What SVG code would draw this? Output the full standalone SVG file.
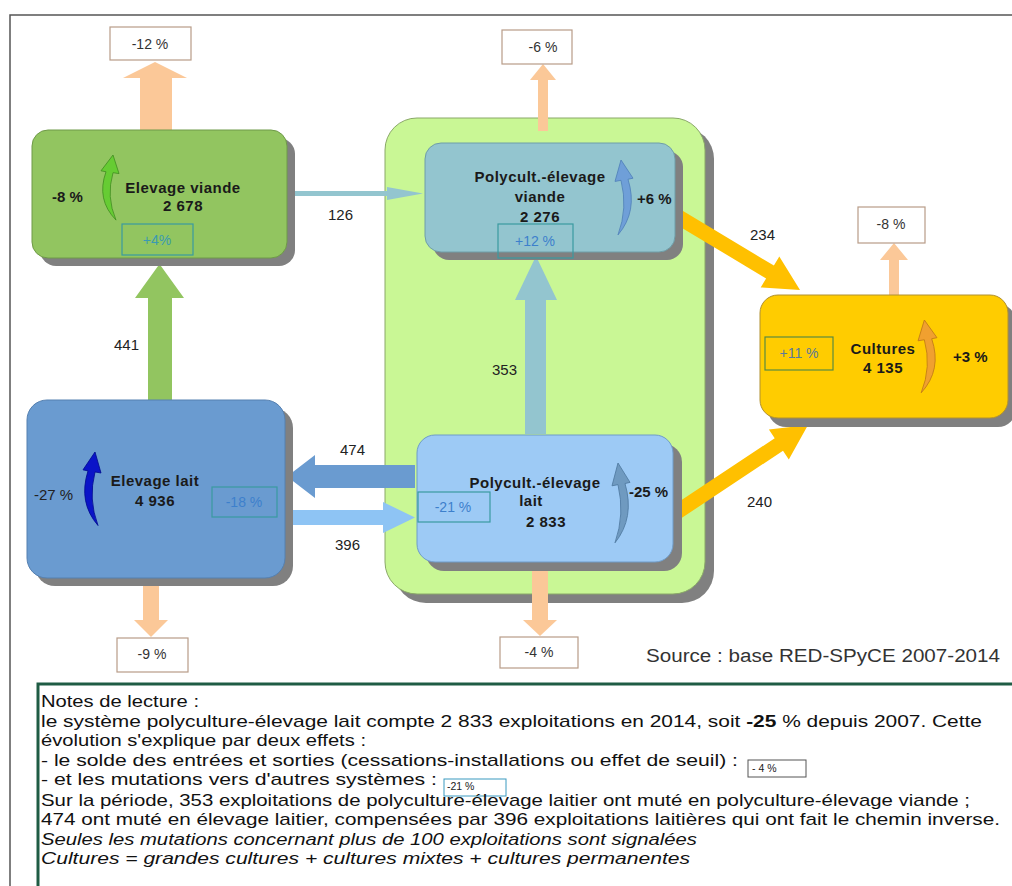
<svg xmlns="http://www.w3.org/2000/svg" width="1012" height="886" viewBox="0 0 1012 886">
<style>
  text{font-family:"Liberation Sans",Arial,sans-serif;fill:#1a1a1a}
  .ttl{font-size:15px;font-weight:bold;text-anchor:middle;letter-spacing:0.5px}
  .pct{font-size:15px;font-weight:bold}
  .num{font-size:15px;fill:#222}
  .ibox{fill:none;stroke:#3a9aa0;stroke-width:1.2}
  .itxt{font-size:14px;fill:#3d80cc;text-anchor:middle}
  .obox{fill:#fff;stroke:#b89c88;stroke-width:1.2}
  .otxt{font-size:14px;fill:#333;text-anchor:middle}
  .shadow{fill:#808080}
  .peach{fill:#fbc898}
  .note{font-size:17px;fill:#111}
  .it{font-style:italic}
</style>
<defs>
  <path id="crv" d="M16 70 Q-4 48 6 18 L1 17 L13 0 L19 20 L13 19 Q6 45 16 70 Z"/>
</defs>
<rect width="1012" height="886" fill="#fff"/>
<!-- frame -->
<path d="M10 886 V15 H1012" fill="none" stroke="#555" stroke-width="1.5"/>

<!-- container -->
<g id="container">
  <rect x="394" y="127" width="320" height="476" rx="32" class="shadow"/>
  <rect x="385" y="118" width="320" height="476" rx="32" fill="#c9f795" stroke="#8aa868" stroke-width="1"/>
</g>

<g id="connectors">
  <!-- outflows (peach) -->
  <polygon class="peach" points="140,130 140,78 123,78 155,62 187,78 172,78 172,130"/>
  <polygon class="peach" points="538,131 538,80 530,80 543,64 556,80 548,80 548,131"/>
  <polygon class="peach" points="889,295 889,260 880,260 894,243 908,260 899,260 899,295"/>
  <polygon class="peach" points="143,578 143,620 134,620 151,637 168,620 159,620 159,578"/>
  <polygon class="peach" points="532,570 532,620 523,620 540,636 557,620 548,620 548,570"/>
  <!-- 441 -->
  <polygon fill="#92c560" points="148,402 148,298 135,298 159.5,264 184,298 172,298 172,402"/>
  <!-- 353 -->
  <polygon fill="#93c5cf" points="525,434 525,300 515,300 536,256 557,300 546,300 546,434"/>
  <!-- 474 -->
  <polygon fill="#6a9bd0" points="415,465 315,465 315,455 287,476.5 315,498 315,488 415,488"/>
  <!-- 396 -->
  <polygon fill="#8ec4f4" points="290,510 383,510 383,502 415,517.5 383,533 383,525 290,525"/>
  <!-- 126 -->
  <polygon fill="#93c5cf" points="287,191 387,191 387,187 423,193.5 387,200 387,196 287,196"/>
  <!-- 234 -->
  <polygon fill="#ffc000" points="678.9,208.6 773.9,265.6 779.3,256.6 800,290 760.7,287.4 766.1,278.4 671.1,221.4"/>
  <!-- 240 -->
  <polygon fill="#ffc000" points="672.9,505.8 774.7,438.2 768.9,429.4 808,425 788.8,459.4 783,450.7 681.2,518.3"/>
  <!-- labels -->
  <text class="num" x="328" y="220">126</text>
  <text class="num" x="114" y="350">441</text>
  <text class="num" x="492" y="375">353</text>
  <text class="num" x="340" y="455">474</text>
  <text class="num" x="335" y="550">396</text>
  <text class="num" x="750" y="240">234</text>
  <text class="num" x="747" y="507">240</text>
</g>

<!-- outflow boxes -->
<g id="out-ev">
  <rect class="obox" x="110" y="27" width="81" height="33"/>
  <text class="otxt" x="150" y="49">-12 %</text>
</g>
<g id="out-pv">
  <rect class="obox" x="502" y="30" width="70" height="34"/>
  <text class="otxt" x="543" y="52">-6 %</text>
</g>
<g id="out-cu">
  <rect class="obox" x="858" y="207" width="67" height="36"/>
  <text class="otxt" x="891" y="229">-8 %</text>
</g>
<g id="out-el">
  <rect class="obox" x="117" y="638" width="71" height="34"/>
  <text class="otxt" x="152" y="659">-9 %</text>
</g>
<g id="out-pl">
  <rect class="obox" x="500" y="637" width="78" height="31"/>
  <text class="otxt" x="539" y="657">-4 %</text>
</g>

<!-- Elevage viande -->
<g id="elevage-viande">
  <rect class="shadow" x="40" y="138" width="255" height="128" rx="16"/>
  <rect x="32" y="130" width="255" height="128" rx="16" fill="#92c560" stroke="#6f9a48" stroke-width="1"/>
  <use href="#crv" transform="translate(100,155) scale(1,0.93)" fill="#66cc33" stroke="#3d8a1e" stroke-width="0.8"/>
  <text class="ttl" x="183" y="193">Elevage viande</text>
  <text class="ttl" x="183" y="211">2 678</text>
  <text class="pct" x="52" y="202">-8 %</text>
  <rect class="ibox" x="122" y="224" width="71" height="31"/>
  <text class="itxt" x="157" y="245" style="fill:#3a9ab0">+4%</text>
</g>

<!-- Elevage lait -->
<g id="elevage-lait">
  <rect class="shadow" x="35" y="408" width="258" height="178" rx="20"/>
  <rect x="27" y="400" width="258" height="178" rx="20" fill="#6a9bd0" stroke="#5580b0" stroke-width="1"/>
  <use href="#crv" transform="translate(82,452) scale(1,1.05)" fill="#0a14c8" stroke="#000a90" stroke-width="0.8"/>
  <text class="ttl" x="155" y="486">Elevage lait</text>
  <text class="ttl" x="155" y="506">4 936</text>
  <text class="num" x="34" y="500">-27 %</text>
  <rect class="ibox" x="212" y="487" width="65" height="30"/>
  <text class="itxt" x="244" y="507">-18 %</text>
</g>

<!-- Polycult.-élevage viande -->
<g id="polycult-viande">
  <rect class="shadow" x="433" y="151" width="250" height="109" rx="16"/>
  <rect x="425" y="143" width="250" height="109" rx="16" fill="#93c5cf" stroke="#6f9ea8" stroke-width="1"/>
  <use href="#crv" transform="translate(634,160) scale(-1,1.07)" fill="#6f9fd8" stroke="#4f7fb8" stroke-width="0.8"/>
  <text class="ttl" x="540" y="182">Polycult.-élevage</text>
  <text class="ttl" x="540" y="202">viande</text>
  <text class="ttl" x="540" y="222">2 276</text>
  <text class="pct" x="637" y="204">+6 %</text>
  <rect class="ibox" x="498" y="224" width="75" height="34"/>
  <text class="itxt" x="535" y="246">+12 %</text>
</g>

<!-- Polycult.-élevage lait -->
<g id="polycult-lait">
  <rect class="shadow" x="426" y="444" width="256" height="127" rx="18"/>
  <rect x="417" y="435" width="256" height="127" rx="18" fill="#9dcaf5" stroke="#6f9cc8" stroke-width="1"/>
  <use href="#crv" transform="translate(631,463) scale(-1,1.14)" fill="#6f9ac0" stroke="#507aa0" stroke-width="0.8"/>
  <text class="ttl" x="535" y="488">Polycult.-élevage</text>
  <text class="ttl" x="531" y="506">lait</text>
  <text class="ttl" x="546" y="527">2 833</text>
  <text class="pct" x="629" y="497">-25 %</text>
  <rect class="ibox" x="418" y="492" width="72" height="30"/>
  <text class="itxt" x="453" y="512">-21 %</text>
</g>

<!-- Cultures -->
<g id="cultures">
  <rect class="shadow" x="768" y="304" width="248" height="123" rx="18"/>
  <rect x="760" y="295" width="248" height="123" rx="18" fill="#ffcc00" stroke="#b09030" stroke-width="1"/>
  <use href="#crv" transform="translate(938,320) scale(-1.05,1.04)" fill="#f0a030" stroke="#c07818" stroke-width="0.8"/>
  <text class="ttl" x="883" y="354">Cultures</text>
  <text class="ttl" x="883" y="373">4 135</text>
  <text class="pct" x="953" y="362">+3 %</text>
  <rect x="765" y="337" width="68" height="33" fill="none" stroke="#5a8a40" stroke-width="1.2"/>
  <text class="itxt" x="799" y="358" style="fill:#5a7a9a">+11 %</text>
</g>

<!-- source -->
<text x="646" y="662" textLength="354" lengthAdjust="spacingAndGlyphs" style="font-size:18px;fill:#333">Source : base RED-SPyCE 2007-2014</text>

<!-- notes -->
<g id="notes">
  <rect x="38" y="684" width="1000" height="230" fill="#fff" stroke="#1f5c44" stroke-width="3"/>
  <text class="note" x="41" y="707" textLength="158" lengthAdjust="spacingAndGlyphs">Notes de lecture :</text>
  <text class="note" x="41" y="726.5" textLength="941" lengthAdjust="spacingAndGlyphs">le système polyculture-élevage lait compte 2 833 exploitations en 2014, soit <tspan font-weight="bold">-25</tspan> % depuis 2007. Cette</text>
  <text class="note" x="41" y="746" textLength="325" lengthAdjust="spacingAndGlyphs">évolution s'explique par deux effets :</text>
  <text class="note" x="41" y="765.5" textLength="697" lengthAdjust="spacingAndGlyphs">- le solde des entrées et sorties (cessations-installations ou effet de seuil) :</text>
  <rect x="748" y="760" width="58" height="17" fill="none" stroke="#555" stroke-width="1"/>
  <text x="752" y="772" style="font-size:10.5px">- 4 %</text>
  <text class="note" x="41" y="785" textLength="396" lengthAdjust="spacingAndGlyphs">- et les mutations vers d'autres systèmes :</text>
  <rect x="444" y="779" width="62" height="17" fill="none" stroke="#3a9ac0" stroke-width="1"/>
  <text x="447" y="790" style="font-size:10.5px">-21 %</text>
  <text class="note" x="41" y="806" textLength="929" lengthAdjust="spacingAndGlyphs">Sur la période, 353 exploitations de polyculture-élevage laitier ont muté en polyculture-élevage viande ;</text>
  <text class="note" x="41" y="825" textLength="959" lengthAdjust="spacingAndGlyphs">474  ont muté en élevage laitier, compensées par 396 exploitations laitières qui ont fait le chemin inverse.</text>
  <text class="note it" x="41" y="844.5" textLength="656" lengthAdjust="spacingAndGlyphs">Seules les mutations concernant plus de 100 exploitations sont signalées</text>
  <text class="note it" x="41" y="864" textLength="649" lengthAdjust="spacingAndGlyphs">Cultures = grandes cultures + cultures mixtes + cultures permanentes</text>
</g>
</svg>
